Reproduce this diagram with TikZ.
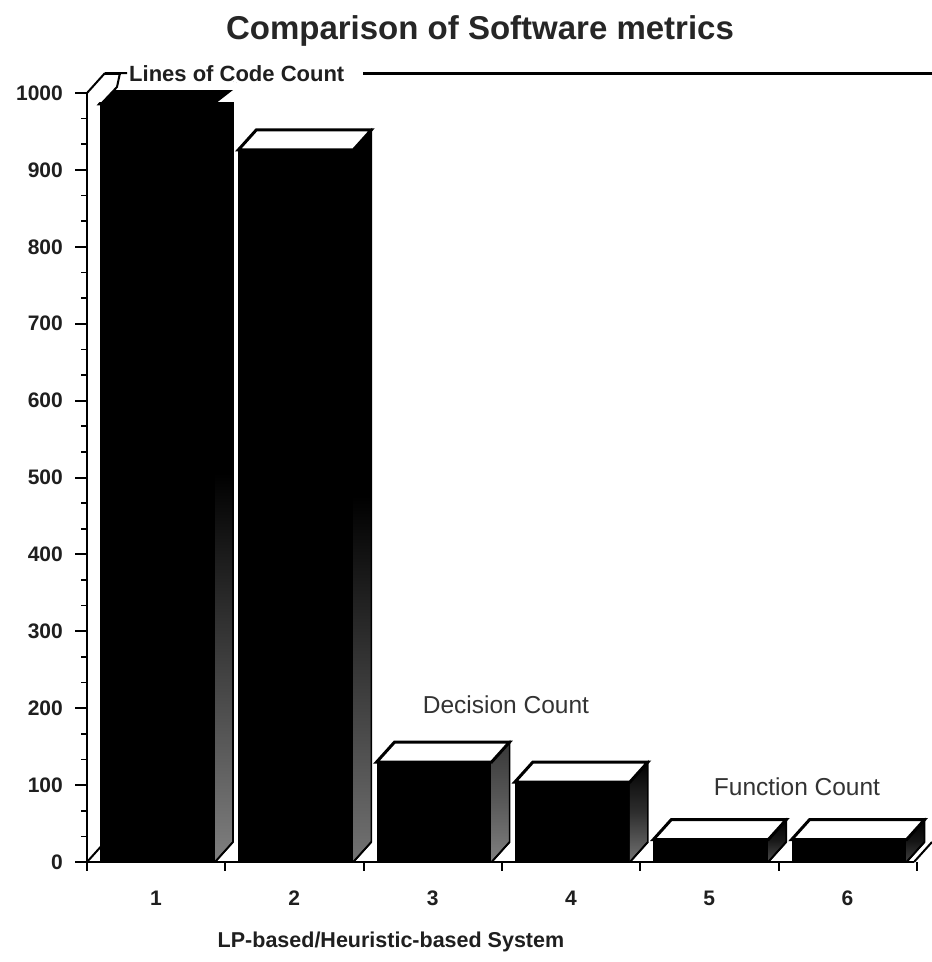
\documentclass[tikz,border=0pt]{standalone}
\usepackage{fontspec}
\setmainfont{Liberation Sans}
\begin{document}
\begin{tikzpicture}[x=1pt,y=-1pt,line join=miter,
  axisline/.style={line width=2pt,draw=black},
  frameline/.style={line width=3pt,draw=black},
  numlab/.style={font=\bfseries\fontsize{21}{24}\selectfont,text=black!88,inner sep=0pt},
  serieslab/.style={font=\fontsize{24.5}{28}\selectfont,text=black!80,inner sep=0pt},
  toplab/.style={font=\bfseries\fontsize{22}{26}\selectfont,text=black!88,inner sep=0pt}]
\useasboundingbox (0,0) rectangle (932,962);
\fill[white] (0,0) rectangle (932,962);

% title
\node[font=\bfseries\fontsize{33}{38}\selectfont,text=black!85,inner sep=0pt] (title) at (480,31) {Comparison of Software metrics};

% axis frame
\coordinate (o) at (87,862);
\coordinate (ytop) at (87,93);
\coordinate (wallback) at (105,73);
\draw[axisline] (o) -- (ytop);
\draw[axisline] (ytop) -- (wallback);
\draw[axisline] (o) -- (105,842);

% y ticks and labels
\foreach \v in {0,100,...,1000}{
  \draw[axisline] (75,{862-0.769*\v}) -- (87,{862-0.769*\v});
  \node[numlab,anchor=east] (yl\v) at (63,{862-0.769*\v}) {\v};
}
\foreach \v in {0,100,...,900}{
  \draw[line width=1.6pt] (81,{862-0.769*(\v+33.33)}) -- (87,{862-0.769*(\v+33.33)});
  \draw[line width=1.6pt] (81,{862-0.769*(\v+66.67)}) -- (87,{862-0.769*(\v+66.67)});
}

% baseline and category ticks
\coordinate (bend) at (914,862);
\draw[axisline] (75,862) -- (bend);
\draw[axisline] (bend) -- (932,842);
\foreach \i in {0,...,6}{
  \draw[axisline] ({87+138.3*\i},862) -- ({87+138.3*\i},871);
}
\foreach \n in {1,...,6}{
  \node[numlab] (xl\n) at ({156+138.3*(\n-1)},898) {\n};
}

% bars
\foreach \i/\v/\tc/\mc/\bc in {0/986/black/black/black!50,
                               1/926/black/black/black!55,
                               2/130/black!78/black!65/black!50,
                               3/104/black/black!82/black!55,
                               4/29/black/black!90/black!70,
                               5/29/black/black!92/black!75}{
  \pgfmathsetmacro{\xl}{100+138.3*\i}
  \pgfmathsetmacro{\xr}{\xl+115}
  \pgfmathsetmacro{\yt}{862-0.769*\v}
  % front face
  \fill[black] (\xl,862) rectangle (\xr,\yt);
  % side face
  \shade[top color=\tc,bottom color=\bc,middle color=\mc]
     (\xr,\yt) -- (\xr+18,\yt-20) -- (\xr+18,842) -- (\xr,862) -- cycle;
  \draw[line width=1.6pt] (\xr,\yt) -- (\xr+18,\yt-20) -- (\xr+18,842) -- (\xr,862);
  % top face
  \filldraw[fill=white,draw=black,line width=3pt]
     (\xl,\yt) -- (\xl+18,\yt-20) -- (\xr+18,\yt-20) -- (\xr,\yt) -- cycle;
  % floor diagonal at bar's right foot
  \draw[line width=1.8pt] (\xr,862) -- (\xr+18,842);
}
% bar 1 top is dark
\fill[white] (99,102) rectangle (236,82);
\fill[black] (100,104) -- (114,90) -- (233,90) -- (215,104) -- cycle;
\draw[axisline] (101,104) -- (117,87) -- (120,73) -- (127,73);

% top frame line with series label
\node[toplab,anchor=west] (loc) at (129,74) {Lines of Code Count};
\draw[frameline] (wallback) -- (121,73);
\draw[frameline] (363,73) -- (932,73);

% series labels
\node[serieslab] (dec) at (506,705) {Decision Count};
\node[serieslab] (fun) at (797,787) {Function Count};

% x axis title
\node[font=\bfseries\fontsize{21.5}{25}\selectfont,text=black!88,inner sep=0pt] (xtitle) at (391,942) {LP-based/Heuristic-based System};
\end{tikzpicture}
\end{document}
